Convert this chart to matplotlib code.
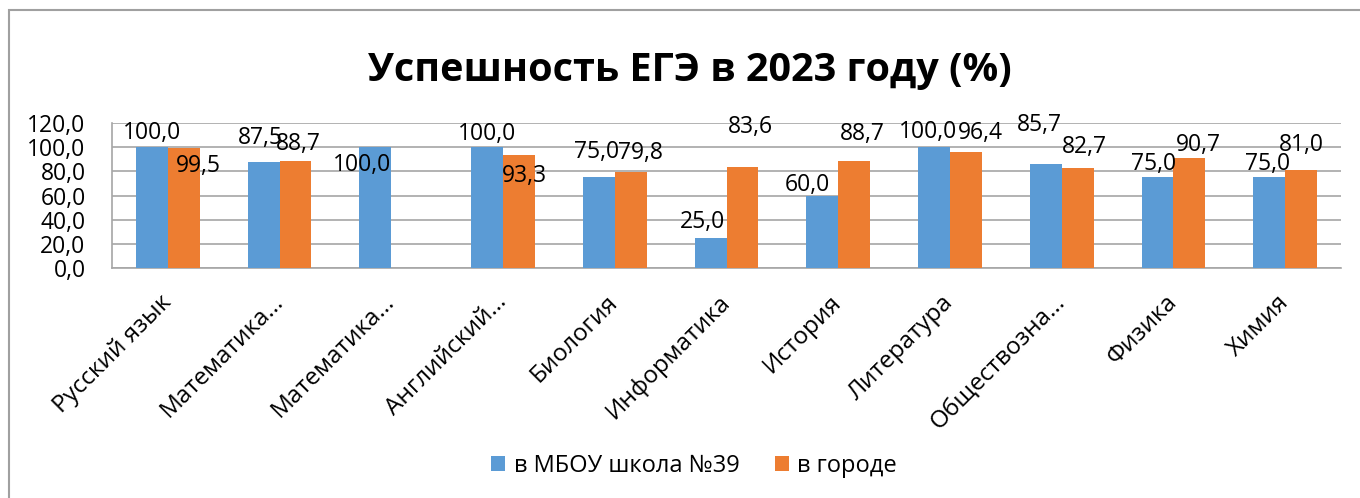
import numpy as np
import matplotlib
matplotlib.use('Agg')
import matplotlib.pyplot as plt
from matplotlib.patches import Rectangle

plt.rcParams['font.family'] = ['Open Sans', 'DejaVu Sans']

# ============================================================================
# Данные
# ============================================================================

subjects = ['Русский язык', 'Математика…', 'Математика…', 'Английский…',
            'Биология', 'Информатика', 'История', 'Литература',
            'Обществозна…', 'Физика', 'Химия']
school = [100.0, 87.5, 100.0, 100.0, 75.0, 25.0, 60.0, 100.0, 85.7, 75.0, 75.0]
city = [99.5, 88.7, np.nan, 93.3, 79.8, 83.6, 88.7, 96.4, 82.7, 90.7, 81.0]
series_names = ['в МБОУ школа №39', 'в городе']
title = 'Успешность ЕГЭ в 2023 году (%)'

# смещения подписей (пиксели) - как их расставил Excel
school_dx = [0, -3, -13, 0, -2, -8, -15, -6, -6, -4, -2]
school_dy = [14, 24, -18, 13, 25, 16, 11, 15, 39, 13, 13]
city_dx = [15, 3, 0, 5, 10, 8, 8, 14, 7, 9, 0]
city_dy = [-18, 17, 0, -21, 19, 40, 27, 19, 21, 13, 25]

blue = '#5B9BD5'
orange = '#ED7D31'
grid_col = '#A6A6A6'

W, H = 1360, 498
fig = plt.figure(figsize=(W / 100, H / 100), dpi=100)
fig.patch.set_facecolor('white')

# рамка диаграммы (видны только левый и верхний края)
fig.patches.append(Rectangle((9 / W, -0.1), 1.2, (H - 10) / H + 0.1,
                             transform=fig.transFigure, fill=False,
                             edgecolor='#A0A0A0', linewidth=1.5))

ax = fig.add_axes([112 / W, (H - 268) / H, (1341 - 112) / W, 145 / H])

x = np.arange(len(subjects))
width = 0.285
b1 = ax.bar(x - width / 2, school, width, color=blue, label=series_names[0], zorder=3)
b2 = ax.bar(x + width / 2, city, width, color=orange, label=series_names[1], zorder=3)

def fmt(v):
    return f'{v:.1f}'.replace('.', ',')

for bars, vals, dxs, dys in [(b1, school, school_dx, school_dy),
                             (b2, city, city_dx, city_dy)]:
    for bar, v, dx, dy in zip(bars, vals, dxs, dys):
        if np.isnan(v):
            continue
        ax.annotate(fmt(v), (bar.get_x() + bar.get_width() / 2, v),
                    xytext=(dx, dy), textcoords='offset pixels',
                    ha='center', va='center', fontsize=16.5, color='black', zorder=5)

ax.set_xlim(-0.5, len(subjects) - 0.5)
ax.set_ylim(0, 120)
ax.set_yticks(np.arange(0, 121, 20))
ax.set_yticklabels([fmt(t) for t in np.arange(0, 121, 20)], fontsize=16.5)
ax.tick_params(axis='y', length=0, pad=19)
ax.yaxis.grid(True, color=grid_col, linewidth=1.2, zorder=0)
ax.set_axisbelow(True)

ax.set_xticks(x)
ax.set_xticklabels(subjects, rotation=45, ha='right', va='center',
                   rotation_mode='anchor', fontsize=17.5)
ax.tick_params(axis='x', length=0, pad=22)

for side in ['top', 'right']:
    ax.spines[side].set_visible(False)
ax.spines['left'].set_color(grid_col)
ax.spines['bottom'].set_color(grid_col)
ax.spines['left'].set_linewidth(1.2)
ax.spines['bottom'].set_linewidth(1.2)

fig.text(690 / W, 1 - 70 / H, title, ha='center', va='center',
         fontsize=28.5, fontweight='bold')

fig.legend(handles=[b1, b2], labels=series_names, loc='center',
           bbox_to_anchor=(694 / W, 1 - 466 / H), ncol=2, frameon=False,
           fontsize=17, handlelength=0.6, handleheight=0.6,
           handletextpad=0.35, columnspacing=1.5)

plt.savefig('out.png', dpi=100)
